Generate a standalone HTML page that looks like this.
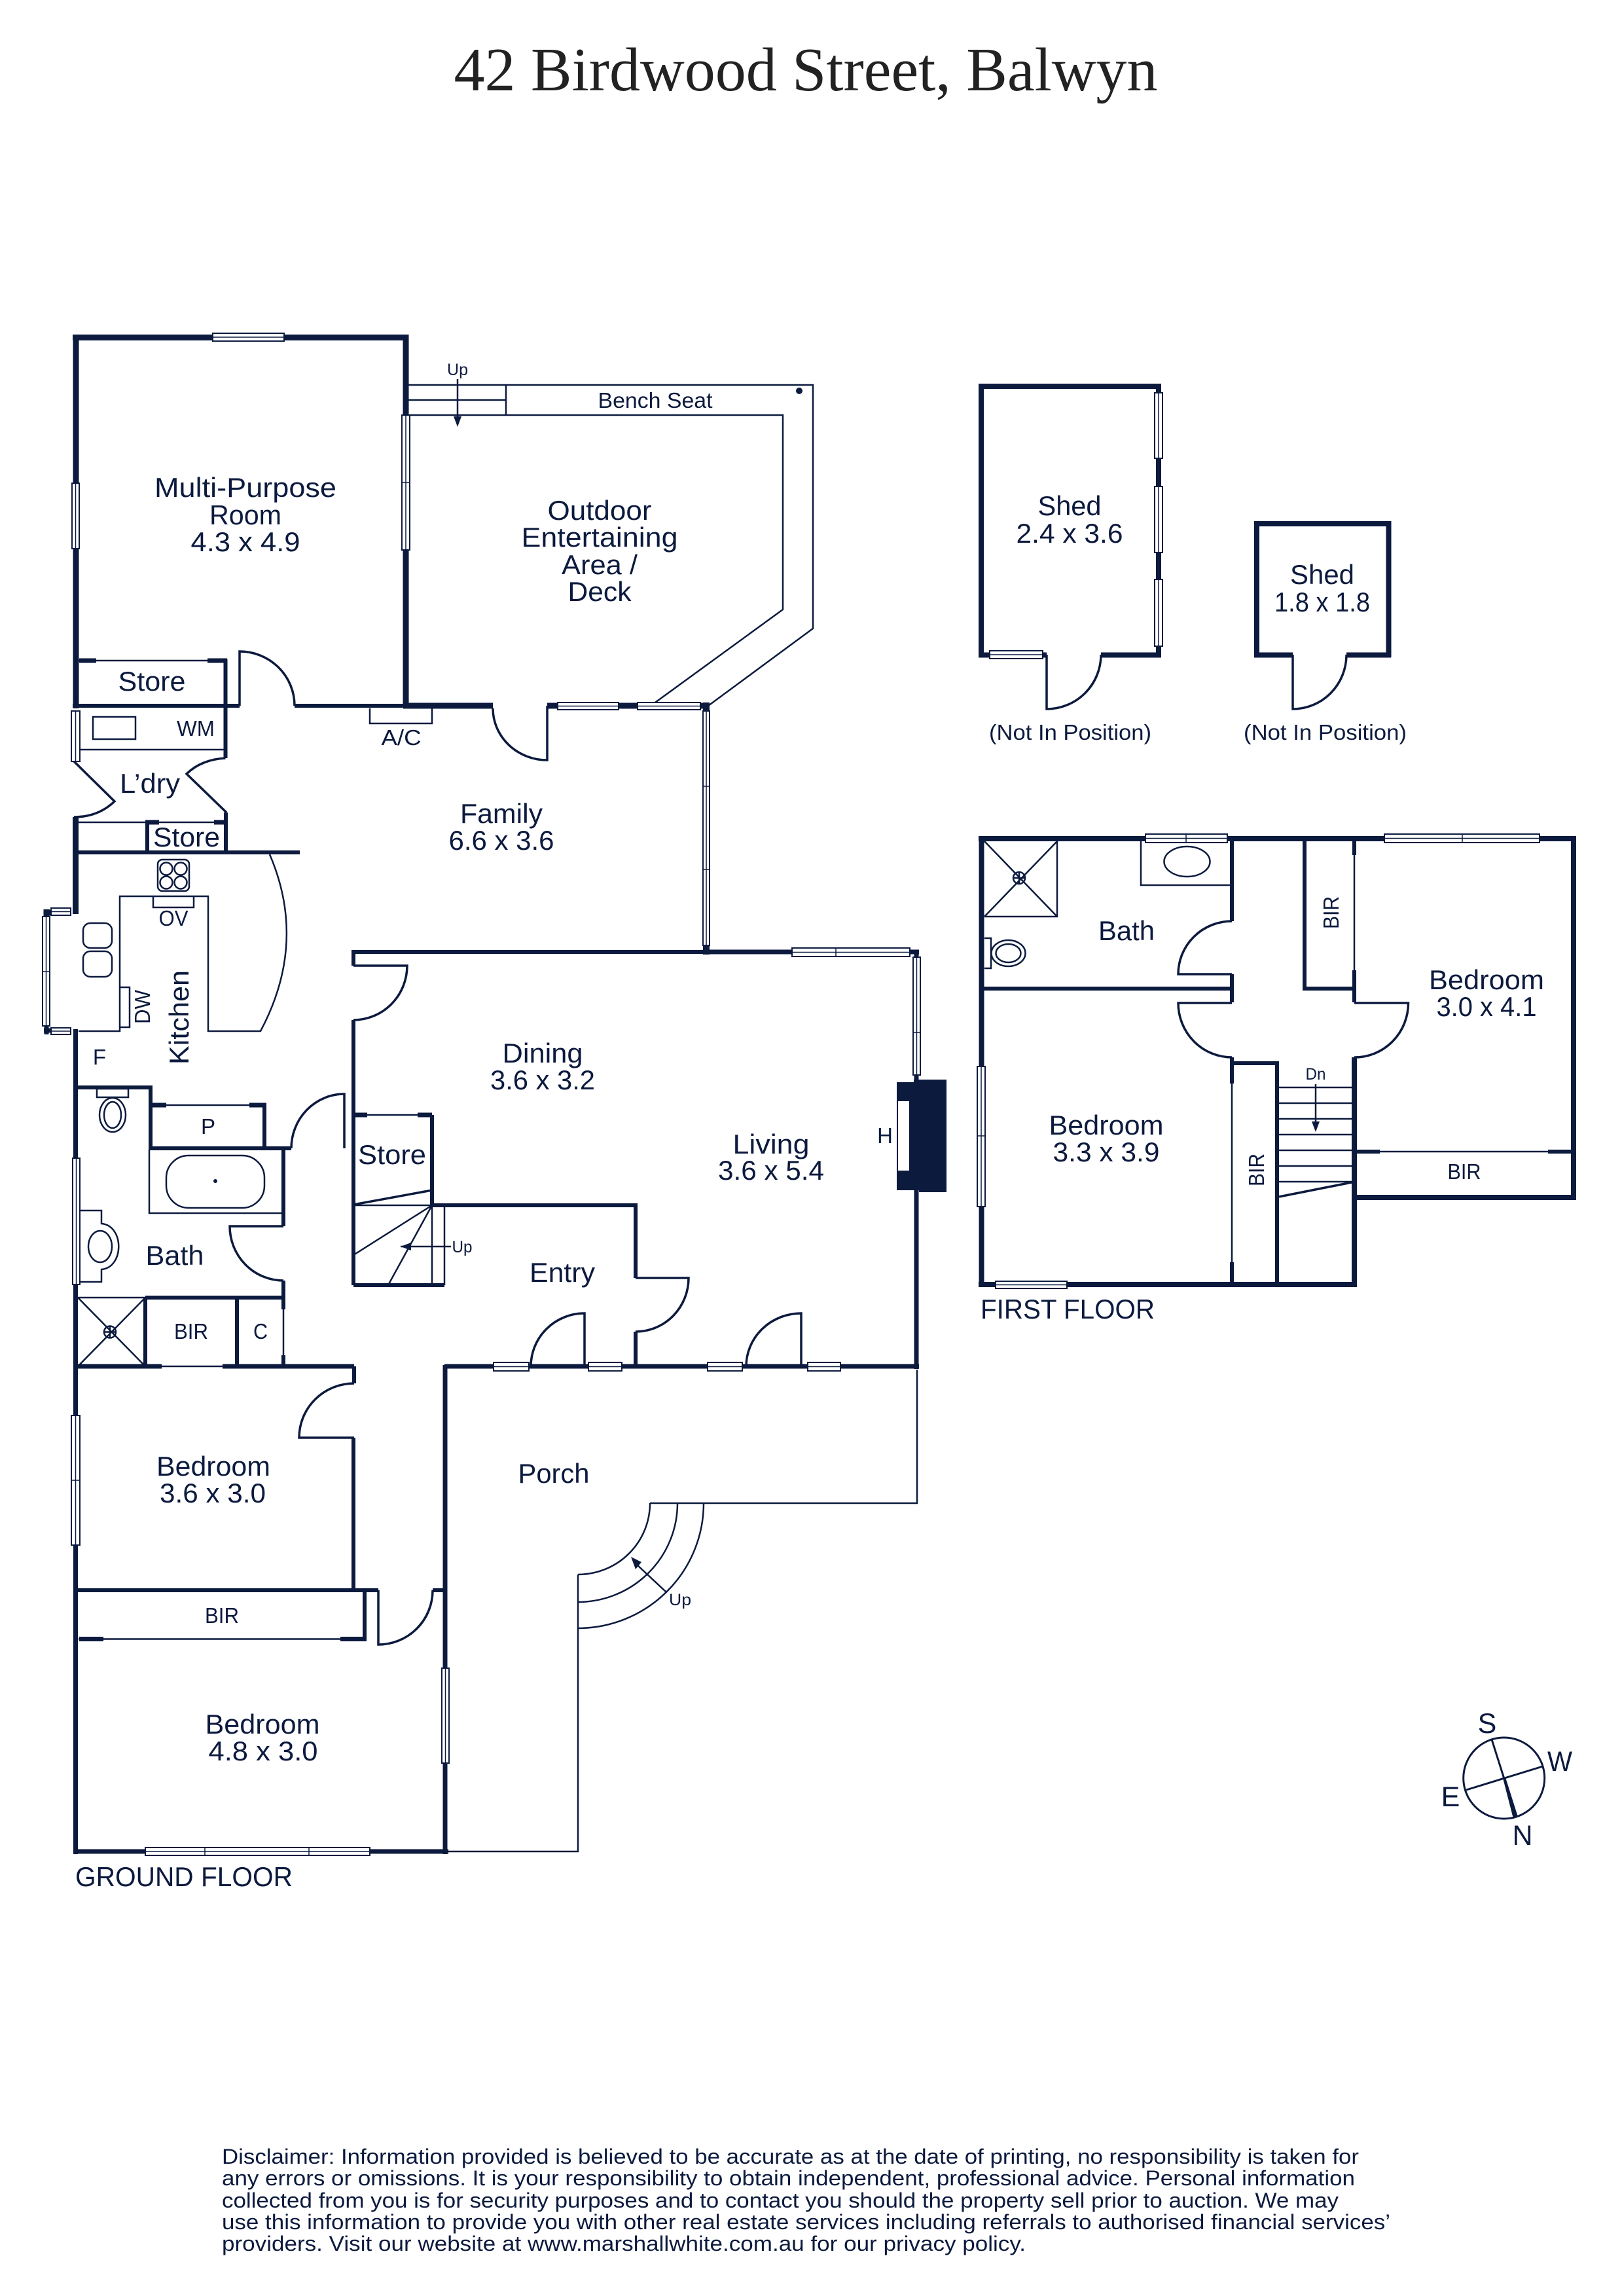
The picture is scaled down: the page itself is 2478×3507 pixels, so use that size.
<!DOCTYPE html>
<html><head><meta charset="utf-8"><title>42 Birdwood Street, Balwyn</title>
<style>
html,body{margin:0;padding:0;background:#fff}
svg{display:block}
text{font-family:"Liberation Sans",sans-serif;fill:#0c1a3e;text-anchor:middle}
.f{fill:none;stroke:#0c1a3e;stroke-linecap:butt;stroke-linejoin:miter}
.w{fill:#fff;stroke:#0c1a3e;stroke-width:2}
.c{stroke:#0c1a3e;stroke-width:1.5;fill:none}
</style></head><body>
<svg xmlns="http://www.w3.org/2000/svg" width="2478" height="3507" viewBox="0 0 2478 3507">
<rect width="2478" height="3507" fill="#fff"/>
<text x="1231" y="138" font-size="94" textLength="1075" lengthAdjust="spacingAndGlyphs" style="font-family:'Liberation Serif',serif;fill:#222">42 Birdwood Street, Balwyn</text>

<!-- thin lines -->
<g class="f" stroke-width="2.5">
<path d="M624 588H1242V960L1082 1078M624 634H1196V931L1001 1073M773 588V634M624 611H773"/>
<path d="M565 1082V1105H660V1082"/>
<path d="M120 1145H342M142 1095H207V1129H142Z"/>
<path d="M120 1009H342M120 1256H343M147 1009H317"/>
<path d="M120 1575H183V1369H318V1575H398Q470 1440 412 1305"/>
<path d="M234 1369V1386H296V1369"/>
<rect x="241" y="1313" width="48" height="48" rx="7"/>
<circle cx="254" cy="1327" r="9.5"/><circle cx="276" cy="1327" r="9.5"/><circle cx="254" cy="1348" r="9.5"/><circle cx="276" cy="1348" r="9.5"/>
<rect x="127" y="1410" width="44" height="38" rx="11"/><rect x="127" y="1453" width="44" height="39" rx="11"/>
<path d="M183 1508H198V1569H183"/>
<!-- ground bath -->
<path d="M148 1663H196V1676H148Z"/>
<ellipse cx="172" cy="1703" rx="20" ry="26"/><ellipse cx="172" cy="1703" rx="13" ry="20"/>
<path d="M230 1688H404M228 1756V1853H430"/>
<rect x="254" y="1765" width="150" height="80" rx="34"/>
<path d="M122 1849H155V1869C190 1872 190 1936 155 1939V1958H122"/>
<ellipse cx="153" cy="1904" rx="18" ry="24"/>
<path d="M119 1982H222V2087M119 1982L222 2087M222 1982L119 2087M119 2087H222"/>
<circle cx="168" cy="2034.5" r="9"/><path d="M159 2034.5H177M168 2025.5V2043.5"/>
<path d="M433 2000V2070M247 2087H340"/>
<path d="M540 1703H660M540 1841H660M660 1841V1963M679 1841V1963M660 1841L540 1917M660 1841L593 1963"/>
<path d="M120 2503.5H520"/>
<path d="M1401 2092V2296H993M883 2405V2828H685M883 2405A110 109 0 0 0 993 2296M883 2447A152 151 0 0 0 1035 2296M883 2487A192 191 0 0 0 1075 2296"/>
<!-- first floor -->
<path d="M1504 1400H1615V1285M1504 1285L1615 1400M1615 1285L1504 1400M1743 1285V1352H1880"/>
<circle cx="1557" cy="1341" r="9"/><path d="M1548 1341H1566M1557 1332V1350"/>
<ellipse cx="1813.5" cy="1316" rx="35" ry="23"/>
<path d="M1504 1433H1514V1479H1504M1514 1433V1479"/>
<ellipse cx="1540.5" cy="1456" rx="26" ry="20"/><ellipse cx="1540.5" cy="1456" rx="19" ry="14"/>
<path d="M1882 1655V1928M2069 1306V1482M2108 1759H2365"/>
<path d="M1951 1661H2065M1951 1685H2065M1951 1709H2065M1951 1733H2065M1951 1757H2065M1951 1781H2065M1951 1805H2065"/>
</g>

<!-- door swings and door jambs -->
<g class="f" stroke-width="3.5">
<path d="M366 1078V995A84 83 0 0 1 450 1078"/>
<path d="M753 1082A83 79 0 0 0 836 1161V1078"/>
<path d="M113 1163L175 1224Q150 1248 113 1248"/>
<path d="M344.5 1158Q308 1160 285 1182L346 1241"/>
<path d="M445 1754A81 83 0 0 1 526 1671V1754"/>
<path d="M540 1475H622A82 83 0 0 1 540 1558"/>
<path d="M433 1873H351A82 83 0 0 0 433 1956"/>
<path d="M971 1952H1052A81 82 0 0 1 971 2034"/>
<path d="M811 2087A82 81 0 0 1 893 2006V2087"/>
<path d="M1140 2087A84 81 0 0 1 1224 2006V2087"/>
<path d="M541 2113A84 83 0 0 0 457 2196H541"/>
<path d="M578 2429V2512A83 83 0 0 0 661 2429"/>
<path d="M1599 1000V1083A83 83 0 0 0 1682 1000"/>
<path d="M1975 1000V1083A82 83 0 0 0 2057 1000"/>
<path d="M1882 1407A82 81 0 0 0 1800 1488H1882"/>
<path d="M1882 1615A82 83 0 0 1 1800 1532H1882"/>
<path d="M2069 1615A82 83 0 0 0 2151.5 1532H2069"/>
<path d="M540 1840L660 1818M1954 1828L2065 1806"/>
<path d="M699 579V640M612 1904H689M1018 2432L972 2389M2010 1656V1720" stroke-width="2.5"/>
</g>
<g fill="#0c1a3e">
<path d="M699 652L693 636H705Z"/>
<path d="M612 1904L628 1898V1910Z"/>
<path d="M964 2378L980 2386L971 2397Z"/>
<path d="M2010 1729L2004 1713H2016Z"/>
<circle cx="1221" cy="597" r="5"/>
<circle cx="329" cy="1804" r="3"/>
</g>

<!-- walls -->
<g class="f" stroke-width="9">
<path d="M620 1078V511M111 515.5H624.5M116 511V1082"/>
<path d="M616 1078H753M836 1078H1084"/>
<path d="M115.5 1248V1396M67 1394H78M71 1389V1400"/>
</g>
<g class="f" stroke-width="10">
<path d="M1079 1073V1086M1079 1444V1458"/>
</g>
<g class="f" stroke-width="7">
<path d="M121 1009H147M317 1009H347"/>
<path d="M222 1256H243M327 1256H345"/>
<path d="M115.5 1572V2832"/>
<path d="M67 1574H78M71 1568V1580"/>
<path d="M1076 1454H1210M1390 1454H1404M1400 1451V1465"/>
<path d="M232 1688H254M381 1688H407M540 1703H561M638 1703H660"/>
<path d="M115 2087H247M340 2087H541"/>
<path d="M121 2503.5H158M520 2503.5H560"/>
<path d="M679 2087H1404M680 2085V2832M112 2828H685M1400 1642V1652M1400 1818V2091"/>
</g>
<g class="f" stroke-width="6">
<path d="M111 1078H366M450 1078H620"/>
<path d="M344.5 1007V1158M345 1241V1305M225 1254V1302M116 1302H458"/>
<path d="M115 1661H230V1754H445M404 1688V1754M433 1751V1873M433 1956V2000M433 2070V2090"/>
<path d="M537 1454H1078M540 1451V1475M540 1558V1963"/>
<path d="M660 1703V1841H971V1952M971 2034V2088M540 1963H679"/>
<path d="M222 1982H433M222 1982V2087M362 1982V2087"/>
<path d="M541 2087V2113M540 2196V2429M116 2429H578M557 2429V2505M661 2429H681"/>
<!-- first floor interior -->
<path d="M1499 1510H1882M1882 1281V1407M1882 1488V1531M1882 1615V1655M1882 1928V1962"/>
<path d="M1882 1624H1951M1951 1621V1962"/>
<path d="M1993 1281V1513M1993 1510H2069M2069 1285V1306M2069 1482V1531"/>
<path d="M2069 1759H2108M2365 1759H2400"/>
</g>
<g class="f" stroke-width="8">
<path d="M1495 1281H2408M1499.5 1277V1966M1495 1962H2073M2069 1615V1966M2404 1277V1833M2065 1829H2408"/>
<path d="M1495 590H1774M1499 586V1004M1770 586V1004M1495 1000.5H1599M1682 1000.5H1774"/>
<path d="M1916 800H2125M1920 796V1004M2121.5 796V1004M1916 1000.5H1975M2057 1000.5H2125"/>
</g>

<!-- fireplace -->
<path d="M1370 1653H1396V1649H1446V1821H1404V1818H1370Z" fill="#0c1a3e"/>
<rect x="1372" y="1682" width="17" height="106" fill="#fff"/>

<!-- windows -->
<g>
<rect class="w" x="325" y="509" width="109" height="12"/><path class="c" d="M325 515H434"/>
<rect class="w" x="110" y="738" width="11" height="100"/><path class="c" d="M115.5 738V838"/>
<rect class="w" x="614" y="634" width="12" height="206"/><path class="c" d="M620 634V840M614 737H626"/>
<rect class="w" x="852" y="1073" width="93" height="11"/><path class="c" d="M852 1078.5H945"/>
<rect class="w" x="974" y="1073" width="96" height="11"/><path class="c" d="M974 1078.5H1070"/>
<rect class="w" x="1074" y="1086" width="10" height="358"/><path class="c" d="M1079 1086V1444M1074 1201H1084M1074 1328H1084"/>
<rect class="w" x="109" y="1086" width="13" height="77"/><path class="c" d="M115.5 1086V1163"/>
<rect class="w" x="65" y="1400" width="11" height="167"/><path class="c" d="M70.5 1400V1567M65 1484H76"/>
<rect class="w" x="78" y="1387" width="30" height="11"/><path class="c" d="M78 1392.5H108"/>
<rect class="w" x="78" y="1570" width="30" height="10"/><path class="c" d="M78 1575H108"/>
<rect class="w" x="1210" y="1448" width="180" height="13"/><path class="c" d="M1210 1454.5H1390M1277 1448V1461"/>
<rect class="w" x="1395" y="1462" width="11" height="180"/><path class="c" d="M1400.5 1462V1642M1395 1577H1406"/>
<rect class="w" x="111" y="1769" width="11" height="193"/><path class="c" d="M116.5 1769V1962"/>
<rect class="w" x="754" y="2081" width="54" height="13"/><path class="c" d="M754 2087.5H808"/>
<rect class="w" x="899" y="2081" width="51" height="13"/><path class="c" d="M899 2087.5H950"/>
<rect class="w" x="1081" y="2081" width="53" height="13"/><path class="c" d="M1081 2087.5H1134"/>
<rect class="w" x="1234" y="2081" width="50" height="13"/><path class="c" d="M1234 2087.5H1284"/>
<rect class="w" x="109" y="2162" width="13" height="198"/><path class="c" d="M115.5 2162V2360M109 2261H122"/>
<rect class="w" x="675" y="2548" width="11" height="145"/><path class="c" d="M680.5 2548V2693"/>
<rect class="w" x="222" y="2822" width="343" height="12"/><path class="c" d="M222 2828H565M313 2822V2834M472 2822V2834"/>
<rect class="w" x="1750" y="1274" width="125" height="13"/><path class="c" d="M1750 1280.5H1875M1812 1274V1287"/>
<rect class="w" x="2115" y="1274" width="237" height="13"/><path class="c" d="M2115 1280.5H2352M2234 1274V1287"/>
<rect class="w" x="1493" y="1629" width="12" height="214"/><path class="c" d="M1499 1629V1843M1493 1735H1505"/>
<rect class="w" x="1521" y="1957" width="109" height="11"/><path class="c" d="M1521 1962.5H1630"/>
<rect class="w" x="1764" y="600" width="12" height="100"/><path class="c" d="M1770 600V700"/>
<rect class="w" x="1764" y="743" width="12" height="101"/><path class="c" d="M1770 743V844"/>
<rect class="w" x="1764" y="885" width="12" height="102"/><path class="c" d="M1770 885V987"/>
<rect class="w" x="1512" y="994" width="81" height="12"/><path class="c" d="M1512 1000H1593"/>
</g>

<!-- compass -->
<g class="f">
<circle cx="2297.7" cy="2716" r="62" stroke-width="3"/>
<path d="M2279 2657L2297.7 2716M2240 2734L2357 2698" stroke-width="3"/>
</g>
<path d="M2296 2716L2300 2715L2319 2775L2312 2778Z" fill="#0c1a3e"/>
<text x="2272" y="2647" font-size="43">S</text>
<text x="2383" y="2705" font-size="43" textLength="38" lengthAdjust="spacingAndGlyphs">W</text>
<text x="2216" y="2759" font-size="43">E</text>
<text x="2326" y="2818" font-size="43">N</text>

<!-- labels -->
<g font-size="42">
<text x="375" y="759" textLength="278" lengthAdjust="spacingAndGlyphs">Multi-Purpose</text>
<text x="375" y="801" textLength="110" lengthAdjust="spacingAndGlyphs">Room</text>
<text x="375" y="842" textLength="167" lengthAdjust="spacingAndGlyphs">4.3 x 4.9</text>
<text x="916" y="794" textLength="159" lengthAdjust="spacingAndGlyphs">Outdoor</text>
<text x="916" y="835" textLength="239" lengthAdjust="spacingAndGlyphs">Entertaining</text>
<text x="916" y="877" textLength="116" lengthAdjust="spacingAndGlyphs">Area /</text>
<text x="916" y="918" textLength="97" lengthAdjust="spacingAndGlyphs">Deck</text>
<text x="232" y="1055" textLength="103" lengthAdjust="spacingAndGlyphs">Store</text>
<text x="229" y="1211" textLength="92" lengthAdjust="spacingAndGlyphs">L’dry</text>
<text x="285" y="1293" textLength="102" lengthAdjust="spacingAndGlyphs">Store</text>
<text x="766" y="1257" textLength="126" lengthAdjust="spacingAndGlyphs">Family</text>
<text x="766" y="1298" textLength="161" lengthAdjust="spacingAndGlyphs">6.6 x 3.6</text>
<text transform="translate(288 1554) rotate(-90)" textLength="144" lengthAdjust="spacingAndGlyphs">Kitchen</text>
<text x="829" y="1623" textLength="123" lengthAdjust="spacingAndGlyphs">Dining</text>
<text x="829" y="1664" textLength="160" lengthAdjust="spacingAndGlyphs">3.6 x 3.2</text>
<text x="1178" y="1762" textLength="117" lengthAdjust="spacingAndGlyphs">Living</text>
<text x="1178" y="1802" textLength="162" lengthAdjust="spacingAndGlyphs">3.6 x 5.4</text>
<text x="599" y="1778" textLength="104" lengthAdjust="spacingAndGlyphs">Store</text>
<text x="267" y="1932" textLength="89" lengthAdjust="spacingAndGlyphs">Bath</text>
<text x="859" y="1958" textLength="100" lengthAdjust="spacingAndGlyphs">Entry</text>
<text x="846" y="2265" textLength="109" lengthAdjust="spacingAndGlyphs">Porch</text>
<text x="326" y="2254" textLength="174" lengthAdjust="spacingAndGlyphs">Bedroom</text>
<text x="325" y="2295" textLength="162" lengthAdjust="spacingAndGlyphs">3.6 x 3.0</text>
<text x="401" y="2648" textLength="175" lengthAdjust="spacingAndGlyphs">Bedroom</text>
<text x="402" y="2689" textLength="167" lengthAdjust="spacingAndGlyphs">4.8 x 3.0</text>
<text x="281" y="2881" textLength="332" lengthAdjust="spacingAndGlyphs">GROUND FLOOR</text>
<text x="1721" y="1436" textLength="86" lengthAdjust="spacingAndGlyphs">Bath</text>
<text x="2271" y="1511" textLength="176" lengthAdjust="spacingAndGlyphs">Bedroom</text>
<text x="2271" y="1552" textLength="153" lengthAdjust="spacingAndGlyphs">3.0 x 4.1</text>
<text x="1690" y="1733" textLength="175" lengthAdjust="spacingAndGlyphs">Bedroom</text>
<text x="1690" y="1774" textLength="163" lengthAdjust="spacingAndGlyphs">3.3 x 3.9</text>
<text x="1631" y="2014" textLength="266" lengthAdjust="spacingAndGlyphs">FIRST FLOOR</text>
<text x="1634" y="787" textLength="97" lengthAdjust="spacingAndGlyphs">Shed</text>
<text x="1634" y="829" textLength="163" lengthAdjust="spacingAndGlyphs">2.4 x 3.6</text>
<text x="2020" y="892" textLength="98" lengthAdjust="spacingAndGlyphs">Shed</text>
<text x="2020" y="934" textLength="146" lengthAdjust="spacingAndGlyphs">1.8 x 1.8</text>
</g>
<g font-size="33">
<text x="1001" y="623" textLength="175" lengthAdjust="spacingAndGlyphs">Bench Seat</text>
<text x="299" y="1124" textLength="58" lengthAdjust="spacingAndGlyphs">WM</text>
<text x="613" y="1138" textLength="61" lengthAdjust="spacingAndGlyphs">A/C</text>
<text x="265" y="1414" textLength="45" lengthAdjust="spacingAndGlyphs">OV</text>
<text transform="translate(229 1538) rotate(-90)" textLength="52" lengthAdjust="spacingAndGlyphs">DW</text>
<text x="152" y="1626">F</text>
<text x="318" y="1732">P</text>
<text x="1352" y="1746">H</text>
<text x="292" y="2045" textLength="52" lengthAdjust="spacingAndGlyphs">BIR</text>
<text x="398" y="2045" textLength="22" lengthAdjust="spacingAndGlyphs">C</text>
<text x="339" y="2479" textLength="52" lengthAdjust="spacingAndGlyphs">BIR</text>
<text x="2237" y="1801" textLength="51" lengthAdjust="spacingAndGlyphs">BIR</text>
<text transform="translate(1931 1787) rotate(-90)" textLength="50" lengthAdjust="spacingAndGlyphs">BIR</text>
<text transform="translate(2045 1394) rotate(-90)" textLength="50" lengthAdjust="spacingAndGlyphs">BIR</text>
<text x="1635" y="1130" textLength="248" lengthAdjust="spacingAndGlyphs">(Not In Position)</text>
<text x="2024.5" y="1130" textLength="249" lengthAdjust="spacingAndGlyphs">(Not In Position)</text>
</g>
<g font-size="25">
<text x="699" y="573" textLength="32" lengthAdjust="spacingAndGlyphs">Up</text>
<text x="706" y="1913" textLength="31" lengthAdjust="spacingAndGlyphs">Up</text>
<text x="1039" y="2452" textLength="34" lengthAdjust="spacingAndGlyphs">Up</text>
<text x="2010" y="1649" textLength="31" lengthAdjust="spacingAndGlyphs">Dn</text>
</g>

<!-- disclaimer -->
<g font-size="32">
<text x="339" y="3305" style="text-anchor:start" textLength="1737" lengthAdjust="spacingAndGlyphs">Disclaimer: Information provided is believed to be accurate as at the date of printing, no responsibility is taken for</text>
<text x="339" y="3338" style="text-anchor:start" textLength="1731" lengthAdjust="spacingAndGlyphs">any errors or omissions. It is your responsibility to obtain independent, professional advice. Personal information</text>
<text x="339" y="3372" style="text-anchor:start" textLength="1706" lengthAdjust="spacingAndGlyphs">collected from you is for security purposes and to contact you should the property sell prior to auction. We may</text>
<text x="339" y="3405" style="text-anchor:start" textLength="1785" lengthAdjust="spacingAndGlyphs">use this information to provide you with other real estate services including referrals to authorised financial services’</text>
<text x="339" y="3438" style="text-anchor:start" textLength="1228" lengthAdjust="spacingAndGlyphs">providers. Visit our website at www.marshallwhite.com.au for our privacy policy.</text>
</g>
</svg>
</body></html>
